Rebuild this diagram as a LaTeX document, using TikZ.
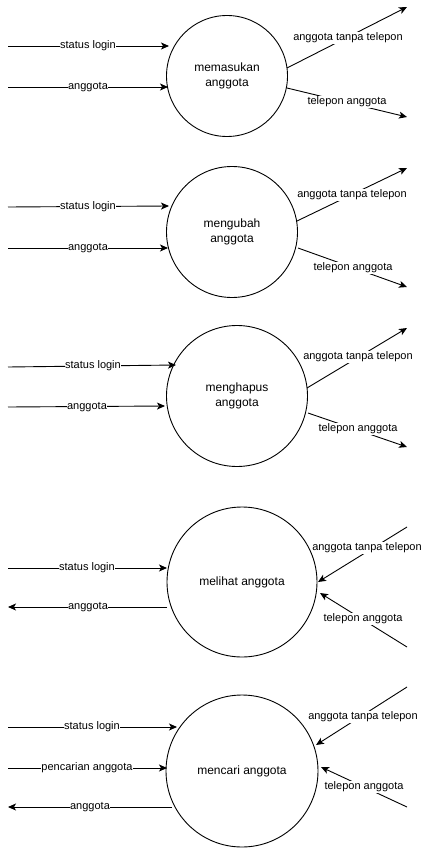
\documentclass[tikz,border=0pt]{standalone}
\usepackage{fontspec}
\setmainfont{Liberation Sans}
\usetikzlibrary{arrows.meta}
\begin{document}
\begin{tikzpicture}[x=1pt,y=-1pt,
  proc/.style={draw, circle, line width=0.9pt, minimum size=#1, inner sep=0pt, align=center, font=\fontsize{12}{14.3}\selectfont},
  flow/.style={line width=0.9pt, -{Stealth[length=8pt,width=7pt,inset=2pt]}},
  lbl/.style={fill=white, inner sep=0.6pt, font=\fontsize{11}{13}\selectfont}]
\useasboundingbox (0,0) rectangle (423,848);

% ---------- Block 1 ----------
\node[proc=121pt] (p1) at (227,76) {memasukan\\anggota};
\coordinate (s1a) at (8,46);  \coordinate (s1b) at (169,46);
\coordinate (g1a) at (8,87);  \coordinate (g1b) at (168,87);
\coordinate (t1a) at (287,68); \coordinate (t1b) at (407,7);
\coordinate (q1a) at (287,88); \coordinate (q1b) at (407,117);
\draw[flow] (s1a) -- (s1b);
\draw[flow] (g1a) -- (g1b);
\draw[flow] (t1a) -- (t1b);
\draw[flow] (q1a) -- (q1b);
\node[lbl] (ls1) at (88,46) {status login};
\node[lbl] (lg1) at (88,87) {anggota};
\node[lbl] (lt1) at (348,38) {anggota tanpa telepon};
\node[lbl] (lq1) at (347,102) {telepon anggota};

% ---------- Block 2 ----------
\node[proc=131pt] (p2) at (232,232) {mengubah\\anggota};
\coordinate (s2a) at (8,207);  \coordinate (s2b) at (169,206);
\coordinate (g2a) at (8,248);  \coordinate (g2b) at (168,248);
\coordinate (t2a) at (297,221); \coordinate (t2b) at (407,168);
\coordinate (q2a) at (298,248); \coordinate (q2b) at (407,287);
\draw[flow] (s2a) -- (s2b);
\draw[flow] (g2a) -- (g2b);
\draw[flow] (t2a) -- (t2b);
\draw[flow] (q2a) -- (q2b);
\node[lbl] (ls2) at (88,207) {status login};
\node[lbl] (lg2) at (88,248) {anggota};
\node[lbl] (lt2) at (352,195) {anggota tanpa telepon};
\node[lbl] (lq2) at (353,268) {telepon anggota};

% ---------- Block 3 ----------
\node[proc=141pt] (p3) at (237,396) {menghapus\\anggota};
\coordinate (s3a) at (8,367);  \coordinate (s3b) at (176,365);
\coordinate (g3a) at (8,407);  \coordinate (g3b) at (165,406);
\coordinate (t3a) at (307,388); \coordinate (t3b) at (407,328);
\coordinate (q3a) at (308,413); \coordinate (q3b) at (407,447);
\draw[flow] (s3a) -- (s3b);
\draw[flow] (g3a) -- (g3b);
\draw[flow] (t3a) -- (t3b);
\draw[flow] (q3a) -- (q3b);
\node[lbl] (ls3) at (93,366) {status login};
\node[lbl] (lg3) at (87,407) {anggota};
\node[lbl] (lt3) at (358,357) {anggota tanpa telepon};
\node[lbl] (lq3) at (358,429) {telepon anggota};

% ---------- Block 4 ----------
\node[proc=150pt] (p4) at (242,582) {melihat anggota};
\coordinate (s4a) at (8,568);  \coordinate (s4b) at (167,568);
\coordinate (g4a) at (167,607); \coordinate (g4b) at (8,607);
\coordinate (t4a) at (407,527); \coordinate (t4b) at (318,582);
\coordinate (q4a) at (407,647); \coordinate (q4b) at (320,593);
\draw[flow] (s4a) -- (s4b);
\draw[flow] (g4a) -- (g4b);
\draw[flow] (t4a) -- (t4b);
\draw[flow] (q4a) -- (q4b);
\node[lbl] (ls4) at (87,568) {status login};
\node[lbl] (lg4) at (88,607) {anggota};
\node[lbl] (lt4) at (367,548) {anggota tanpa telepon};
\node[lbl] (lq4) at (363,619) {telepon anggota};

% ---------- Block 5 ----------
\node[proc=152pt] (p5) at (242,771) {mencari anggota};
\coordinate (s5a) at (8,727);  \coordinate (s5b) at (177,727);
\coordinate (c5a) at (8,768);  \coordinate (c5b) at (167,768);
\coordinate (g5a) at (172,807); \coordinate (g5b) at (8,807);
\coordinate (t5a) at (407,687); \coordinate (t5b) at (316,745);
\coordinate (q5a) at (407,807); \coordinate (q5b) at (321,767);
\draw[flow] (s5a) -- (s5b);
\draw[flow] (c5a) -- (c5b);
\draw[flow] (g5a) -- (g5b);
\draw[flow] (t5a) -- (t5b);
\draw[flow] (q5a) -- (q5b);
\node[lbl] (ls5) at (92,727) {status login};
\node[lbl] (lc5) at (87,768) {pencarian anggota};
\node[lbl] (lg5) at (90,807) {anggota};
\node[lbl] (lt5) at (363,717) {anggota tanpa telepon};
\node[lbl] (lq5) at (364,787) {telepon anggota};
\end{tikzpicture}
\end{document}
